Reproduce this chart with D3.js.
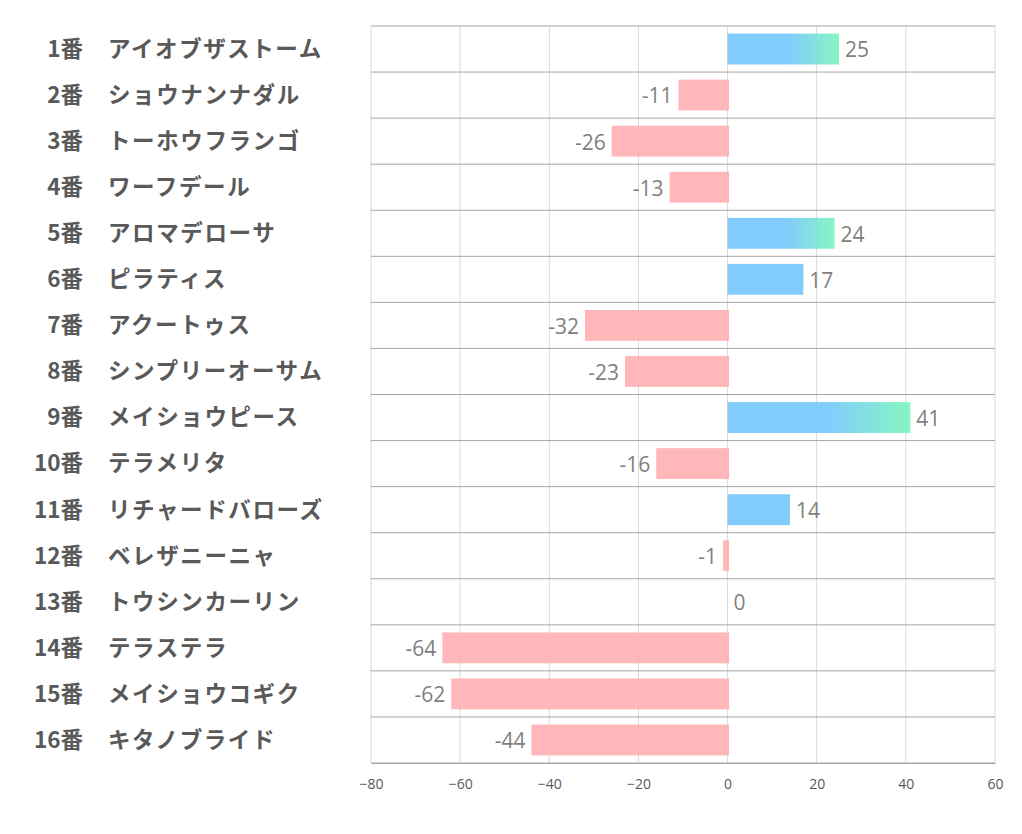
<!DOCTYPE html>
<html><head><meta charset="utf-8">
<script src="https://cdn.jsdelivr.net/npm/d3@7"></script>
<style>body{margin:0;background:#fff}</style>
</head><body><svg id="c" width="1022" height="834"></svg>
<script>
const nums = ["1番","2番","3番","4番","5番","6番","7番","8番","9番","10番","11番","12番","13番","14番","15番","16番"];
const names = ["アイオブザストーム","ショウナンナダル","トーホウフランゴ","ワーフデール","アロマデローサ","ピラティス","アクートゥス","シンプリーオーサム","メイショウピース","テラメリタ","リチャードバローズ","ベレザニーニャ","トウシンカーリン","テラステラ","メイショウコギク","キタノブライド"];
const values = [25,-11,-26,-13,24,17,-32,-23,41,-16,14,-1,0,-64,-62,-44];
const ticks = [-80,-60,-40,-20,0,20,40,60];

const svg = d3.select("#c");
const x = d3.scaleLinear().domain([-80,60]).range([371,995]);
const y = d3.scaleBand().domain(d3.range(16)).range([26,763]).paddingInner(0.33).paddingOuter(0.165);
const rowH = (763-26)/16;

const defs = svg.append("defs");
values.forEach((v,i)=>{
  if (v>20){
    const g = defs.append("linearGradient").attr("id","g"+i).attr("x1","0").attr("x2","1").attr("y1","0").attr("y2","0");
    g.append("stop").attr("offset", "0.55").attr("stop-color","#77c8fc");
    g.append("stop").attr("offset", "1").attr("stop-color","#7cf5bd");
  }
});

// vertical grid
svg.append("g").selectAll("line").data(ticks).join("line")
  .attr("x1",d=>x(d)).attr("x2",d=>x(d)).attr("y1",26).attr("y2",763)
  .attr("stroke","#d9d9d9").attr("stroke-width",1);
// horizontal row lines
svg.append("g").selectAll("line").data(d3.range(17)).join("line")
  .attr("x1",371).attr("x2",995).attr("y1",d=>26+d*rowH).attr("y2",d=>26+d*rowH)
  .attr("stroke","#a6a6a6").attr("stroke-width",1);

// bars
svg.append("g").selectAll("rect").data(values).join("rect")
  .attr("x",d=>d>=0?x(0):x(d))
  .attr("width",d=>d>=0?x(d)-x(0):x(0)-x(d)+1.5)
  .attr("y",(d,i)=>y(i)).attr("height",y.bandwidth())
  .attr("fill",(d,i)=>d>20?`url(#g${i})`:(d>=0?"#77c8fc":"#ffb1b3"))
  .attr("fill-opacity",0.92);

// value labels
svg.append("g").selectAll("text").data(values).join("text")
  .attr("x",d=>d>=0?x(d)+6:x(d)-6)
  .attr("y",(d,i)=>y(i)+y.bandwidth()/2+1)
  .attr("dy","0.35em")
  .attr("text-anchor",d=>d>=0?"start":"end")
  .attr("font-family","'Open Sans','Noto Sans',sans-serif")
  .attr("font-size",21).attr("fill","#7f7f7f")
  .text(d=>d);

// category labels
const lg = svg.append("g").attr("font-family","'Noto Sans CJK JP','Noto Sans',sans-serif").attr("font-weight","bold").attr("font-size",22.5).attr("fill","#595959");
lg.selectAll("text.n").data(nums).join("text").attr("class","n")
  .attr("x",83).attr("y",(d,i)=>y(i)+y.bandwidth()/2).attr("dy","0.35em").attr("text-anchor","end").text(d=>d);
lg.selectAll("text.m").data(names).join("text").attr("class","m")
  .attr("x",108).attr("y",(d,i)=>y(i)+y.bandwidth()/2).attr("dy","0.35em").attr("text-anchor","start")
  .attr("letter-spacing",1.6).text(d=>d);

// axis
const ax = svg.append("g").attr("transform","translate(0,763)")
  .call(d3.axisBottom(x).tickValues(ticks).tickSize(0).tickPadding(16));
ax.select(".domain").attr("stroke","#a6a6a6");
ax.selectAll("text").attr("font-family","'Open Sans','Noto Sans',sans-serif").attr("font-size",14).attr("fill","#595959");
</script></body></html>
